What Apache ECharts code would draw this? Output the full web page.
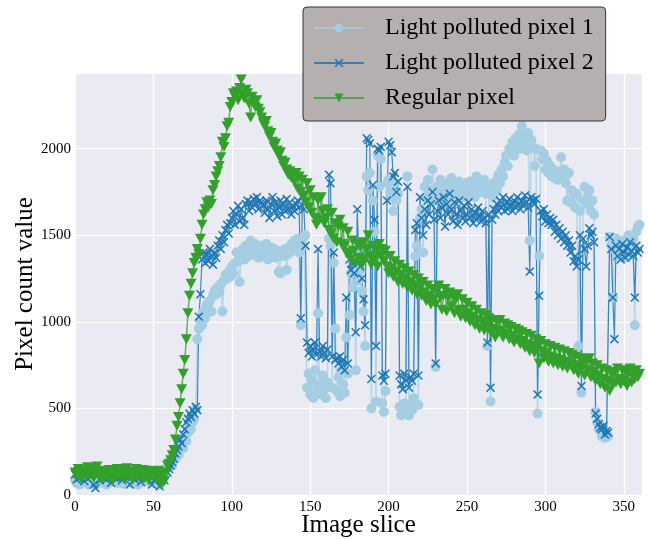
<!DOCTYPE html>
<html><head><meta charset="utf-8">
<script src="https://cdn.jsdelivr.net/npm/echarts@6/dist/echarts.min.js"></script>
<style>html,body{margin:0;padding:0;background:#fff}#c{width:648px;height:539px}</style>
</head><body><div id="c"></div>
<script>
const seriesNames = ['Light polluted pixel 1', 'Light polluted pixel 2', 'Regular pixel'];
const xTitle = 'Image slice';
const yTitle = 'Pixel count value';

const polluted1 = [
90,70,110,60,100,80,120,70,95,60,
110,80,130,65,90,105,70,120,85,100,
60,95,120,75,110,85,130,70,100,90,
120,65,105,80,135,90,70,115,85,100,
60,110,95,130,75,100,120,80,90,110,
70,125,85,100,60,95,140,110,150,170,
160,190,170,220,210,250,230,280,300,270,
330,310,360,390,380,420,440,500,900,960,
1000,980,1060,1020,1100,1080,1120,1060,1150,1180,
1160,1200,1170,1220,1060,1240,1270,1250,1290,1260,
1320,1280,1340,1400,1350,1230,1380,1420,1360,1440,
1400,1380,1470,1430,1390,1450,1410,1370,1420,1440,
1380,1410,1450,1360,1400,1430,1390,1420,1370,1410,
1290,1280,1400,1380,1420,1300,1390,1430,1450,1410,
1470,1430,1480,1400,980,1440,1490,1500,620,700,
580,660,560,720,600,1050,640,580,690,610,
560,650,1480,1440,620,1340,960,600,680,570,
720,640,590,910,700,1040,1280,1200,1360,720,
1400,1240,1300,1180,1060,860,1840,1760,1860,500,
1700,1520,540,1960,1780,1940,530,480,600,1800,
1820,1750,1720,1640,1800,1700,1740,510,460,470,
530,490,1840,460,520,490,560,1380,1440,520,
1600,1650,1400,1780,1720,1820,1760,1700,1880,1740,
740,1780,1700,1820,1760,1720,1800,1740,1690,1780,
1830,1760,1720,1790,1700,1810,1740,1780,1720,1800,
1760,1730,1810,1750,1790,1720,1840,1780,1750,1800,
1760,1820,1740,860,1790,540,1770,1720,1810,1760,
1850,1800,1880,1840,1920,1960,1900,2000,1980,2040,
1960,2060,2020,2080,2000,2130,2040,2070,1990,2090,
1470,2050,2010,1900,2000,470,1380,1990,1940,1970,
1880,1930,1860,1900,1840,1880,1830,1870,1820,1860,
1950,1840,1880,1800,1700,1860,1690,1760,1720,1660,
1740,860,1640,590,1700,1780,1680,1720,1760,1640,
1700,1620,480,420,380,400,340,360,330,350,
340,1490,1440,1140,1420,1480,1380,1450,1400,1470,
1420,1370,1460,1500,1390,1440,1480,980,1520,1550,
1560];

const polluted2 = [
120,90,140,100,150,110,80,130,95,140,
105,125,60,40,110,130,85,145,100,120,
90,135,115,70,140,100,125,95,150,110,
85,130,105,145,120,60,110,135,90,125,
140,100,75,130,115,145,95,120,105,60,
130,90,140,110,50,120,100,85,140,130,
150,170,190,210,240,260,280,320,300,350,
380,420,440,470,450,490,470,510,490,1030,
1160,1360,1400,1340,1390,1350,1420,1380,1330,1400,
1370,1440,1470,1420,1500,1460,1530,1560,1510,1570,
1600,1640,1560,1620,1670,1580,1650,1600,1560,1680,
1700,1640,1690,1660,1710,1680,1720,1650,1700,1690,
1670,1630,1700,1650,1600,1680,1720,1640,1690,1610,
1660,1700,1620,1680,1640,1710,1650,1690,1620,1670,
1640,1680,1700,1660,1020,1720,1650,1440,880,820,
860,800,840,880,810,1420,830,800,860,820,
790,840,1850,1800,800,1400,780,790,760,800,
740,780,720,1140,760,1360,1300,1340,1280,940,
1650,1380,1320,1250,1130,980,2060,2050,2030,670,
1790,1590,860,2000,1990,2010,690,660,700,1700,
2040,2020,1980,1840,1860,1750,1810,690,640,610,
700,660,1780,620,680,660,700,1530,1570,690,
1720,1600,1500,1650,1560,1700,1620,1680,1750,1590,
760,1640,1700,1600,1660,1720,1550,1680,1620,1740,
1650,1580,1690,1620,1560,1700,1640,1600,1670,1580,
1620,1690,1600,1650,1570,1630,1590,1660,1610,1580,
1640,1600,1570,880,1620,620,1590,1650,1620,1680,
1640,1700,1660,1720,1640,1690,1650,1710,1670,1640,
1700,1660,1720,1680,1650,1700,1670,1730,1690,1660,
1290,1720,1700,1680,1710,580,1150,1640,1610,1650,
1580,1620,1570,1600,1560,1590,1520,1560,1500,1540,
1480,1520,1460,1500,1440,1470,1400,1440,1350,1380,
1320,1360,1500,630,1480,1420,1320,1440,1540,1500,
1520,1460,470,440,410,390,380,400,350,370,
360,1490,1420,1140,900,1440,1380,1420,1360,1450,
1400,1370,1430,1390,1460,1410,1380,1140,1440,1400,
1420];

const regularPixel = [
130,110,150,120,95,140,125,105,160,115,
120,150,100,135,165,110,125,90,140,115,
130,100,145,120,85,135,110,150,120,100,
140,115,95,155,120,105,135,90,125,150,
110,130,100,145,95,125,140,85,120,135,
105,130,95,140,115,60,100,80,130,170,
180,200,230,260,320,400,450,530,610,700,
780,900,1050,1150,1220,1280,1340,1370,1420,1390,
1480,1560,1620,1650,1690,1660,1700,1680,1760,1790,
1840,1870,1900,1950,2040,2010,2060,2130,2150,2240,
2270,2320,2300,2330,2280,2350,2400,2310,2290,2340,
2320,2260,2180,2300,2270,2240,2280,2230,2210,2180,
2150,2130,2160,2100,2070,2090,2040,2010,2030,1990,
1960,1980,1930,1900,1920,1880,1850,1870,1830,1860,
1810,1860,1770,1840,1750,1820,1730,1690,1800,1660,
1760,1630,1720,1600,1560,1700,1590,1720,1640,1570,
1600,1650,1530,1510,1630,1480,1570,1460,1550,1590,
1450,1540,1440,1400,1520,1390,1360,1470,1410,1340,
1450,1370,1430,1330,1460,1360,1420,1500,1380,1330,
1440,1360,1410,1320,1450,1380,1420,1350,1410,1320,
1280,1380,1310,1260,1350,1290,1230,1330,1270,1220,
1310,1250,1200,1290,1230,1180,1270,1210,1160,1250,
1200,1150,1230,1170,1120,1210,1150,1100,1190,1130,
1100,1180,1210,1140,1070,1150,1190,1060,1140,1170,
1090,1150,1050,1130,1160,1070,1030,1130,1070,1020,
1110,1050,1000,1090,1030,980,1070,1010,960,1050,
1000,950,1040,970,1020,940,1010,960,910,1000,
940,1010,950,910,990,930,980,900,970,920,
880,960,900,950,870,940,890,850,930,870,
830,920,860,820,900,850,760,890,830,790,
870,820,770,860,800,760,850,790,750,840,
780,740,830,770,730,820,760,810,720,800,
750,700,790,730,780,690,770,720,790,680,
760,710,660,750,690,640,730,670,620,720,
660,600,700,640,710,650,730,670,640,720,
660,710,630,700,730,650,710,670,720,680,
700];

const FONT = '"Liberation Serif", "Times New Roman", serif';
const toPairs = arr => arr.map((v, i) => [i, v]);
const xMark = 'path://M1.2,0 L5,3.8 L8.8,0 L10,1.2 L6.2,5 L10,8.8 L8.8,10 L5,6.2 L1.2,10 L0,8.8 L3.8,5 L0,1.2 Z';

const chart = echarts.init(document.getElementById('c'), null, {renderer: 'canvas'});
chart.setOption({
  animation: false,
  backgroundColor: '#ffffff',
  grid: {left: 75, right: 6, top: 73, bottom: 44, show: true, backgroundColor: '#EAEAF2', borderWidth: 0,
         containLabel: false, outerBoundsMode: 'none'},
  xAxis: {
    type: 'value', min: 0, max: 361.6, interval: 50,
    axisLine: {show: false}, axisTick: {show: false},
    splitLine: {show: true, lineStyle: {color: '#ffffff', width: 1.2}},
    axisLabel: {fontFamily: FONT, fontSize: 15, color: '#000', margin: 5, showMaxLabel: false,
                formatter: v => String(v)},
    name: xTitle, nameLocation: 'middle', nameGap: 18, nameMoveOverlap: false,
    nameTextStyle: {fontFamily: FONT, fontSize: 25, color: '#000'}
  },
  yAxis: {
    type: 'value', min: 0, max: 2437, interval: 500,
    axisLine: {show: false}, axisTick: {show: false},
    splitLine: {show: true, lineStyle: {color: '#ffffff', width: 1.2}},
    axisLabel: {fontFamily: FONT, fontSize: 15, color: '#000', margin: 4, showMaxLabel: false,
                formatter: v => String(v)},
    name: yTitle, nameLocation: 'middle', nameGap: 37, nameMoveOverlap: false,
    nameTextStyle: {fontFamily: FONT, fontSize: 25, color: '#000'}
  },
  legend: {
    orient: 'vertical', left: 303, top: 7,
    padding: [9, 12, 11, 10], itemGap: 11, itemWidth: 50, itemHeight: 11,
    backgroundColor: '#b5afaf', borderColor: '#333', borderWidth: 1, borderRadius: 4,
    textStyle: {fontFamily: FONT, fontSize: 24, color: '#000', lineHeight: 24, padding: [0, 0, 0, 16]},
    data: seriesNames
  },
  series: [
    {
      name: seriesNames[0], type: 'line', data: toPairs(polluted1),
      symbol: 'circle', symbolSize: 10,
      itemStyle: {color: '#a6cee3'},
      lineStyle: {color: '#a6cee3', width: 1.5, opacity: 0.75}
    },
    {
      name: seriesNames[1], type: 'line', data: toPairs(polluted2),
      symbol: xMark, symbolSize: 9,
      itemStyle: {color: '#1f78b4'},
      lineStyle: {color: '#1f78b4', width: 1.2, opacity: 0.85}
    },
    {
      name: seriesNames[2], type: 'line', data: toPairs(regularPixel),
      symbol: 'triangle', symbolRotate: 180, symbolSize: [11, 10],
      itemStyle: {color: '#33a02c'},
      lineStyle: {color: '#33a02c', width: 1.5, opacity: 0.75}
    }
  ]
});
</script>
</body></html>
